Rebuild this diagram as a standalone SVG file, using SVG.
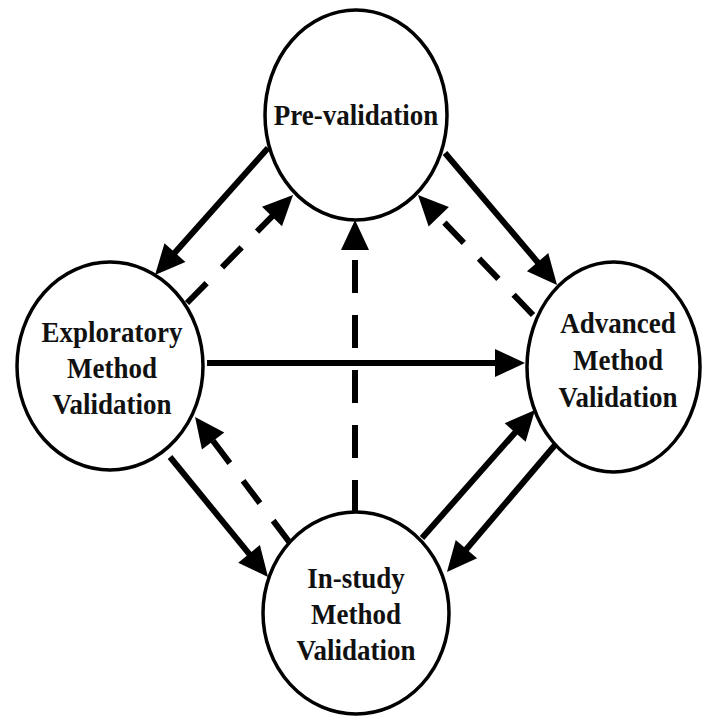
<svg xmlns="http://www.w3.org/2000/svg" width="702" height="721" viewBox="0 0 702 721">
<style>
.node ellipse{fill:#fff;stroke:#000;stroke-width:3.5}
.node text{font-family:"Liberation Serif","Times New Roman",serif;font-weight:bold;font-size:27px;fill:#111;text-anchor:middle}
.c line{stroke:#000;stroke-width:6;fill:none;marker-end:url(#ah)}
.c .dash{stroke-dasharray:28 22}
.c .vdash{stroke-dasharray:33 22}
</style>
<defs>
<marker id="ah" markerUnits="userSpaceOnUse" markerWidth="30" markerHeight="28" refX="4" refY="14" orient="auto" overflow="visible">
<path d="M0,0 L30,14 L0,28 Z" fill="#000"/>
</marker>
</defs>
<rect width="702" height="721" fill="#fff"/>
<g id="connectors" class="c">
<line x1="268" y1="148" x2="172.3" y2="255.6"/>
<line class="dash" x1="187" y1="303" x2="274.8" y2="213.6"/>
<line x1="445" y1="153" x2="540.2" y2="265.2"/>
<line class="dash" x1="533" y1="315" x2="436" y2="213.8"/>
<line x1="207" y1="363" x2="499" y2="363"/>
<line class="vdash" x1="355" y1="513" x2="355" y2="246"/>
<line x1="170" y1="457" x2="251.6" y2="556.9"/>
<line class="dash" x1="290" y1="543" x2="210.7" y2="437.8"/>
<line x1="422" y1="538" x2="517.8" y2="429.5"/>
<line x1="555" y1="445" x2="463.8" y2="552.2"/>
</g>
<g id="pre-validation" class="node">
<ellipse cx="356" cy="115" rx="91" ry="105"/>
<text transform="translate(356,125) scale(1,1.1)">Pre-validation</text>
</g>
<g id="exploratory" class="node">
<ellipse cx="110" cy="366" rx="93" ry="104"/>
<text transform="translate(112,342) scale(1,1.1)">Exploratory</text>
<text transform="translate(112,378) scale(1,1.1)">Method</text>
<text transform="translate(112,414) scale(1,1.1)">Validation</text>
</g>
<g id="advanced" class="node">
<ellipse cx="613.5" cy="367" rx="86.5" ry="105"/>
<text transform="translate(618,333) scale(1,1.1)">Advanced</text>
<text transform="translate(618,370) scale(1,1.1)">Method</text>
<text transform="translate(618,407) scale(1,1.1)">Validation</text>
</g>
<g id="in-study" class="node">
<ellipse cx="356" cy="613" rx="93" ry="101"/>
<text transform="translate(356,588) scale(1,1.1)">In-study</text>
<text transform="translate(356,624) scale(1,1.1)">Method</text>
<text transform="translate(356,660) scale(1,1.1)">Validation</text>
</g>
</svg>
